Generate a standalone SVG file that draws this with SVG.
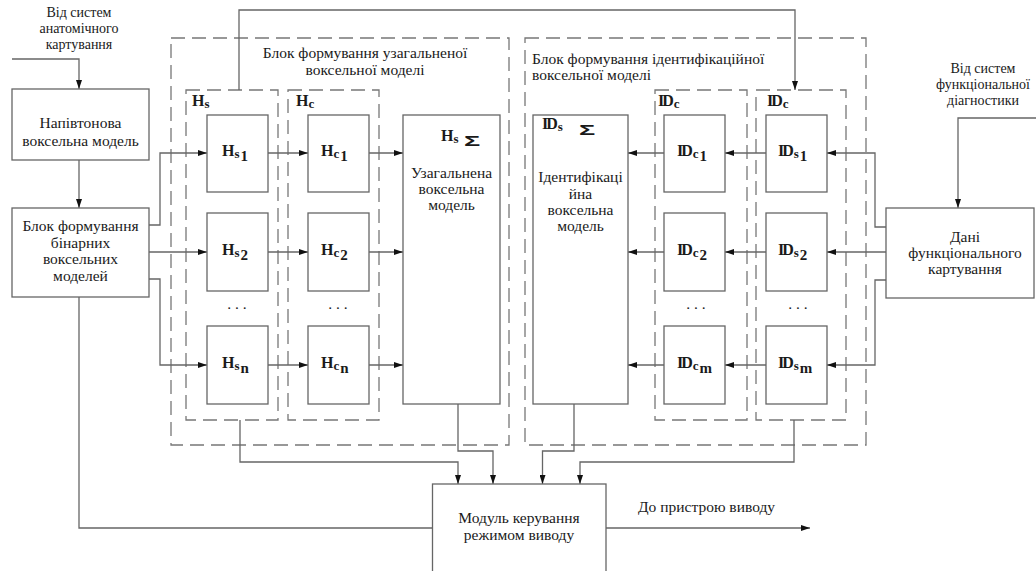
<svg xmlns="http://www.w3.org/2000/svg" width="1036" height="571" viewBox="0 0 1036 571">
<style>
.b{fill:#fff;stroke:#666;stroke-width:1.3}
.d{fill:none;stroke:#777;stroke-width:1.3;stroke-dasharray:14 7}
.c{fill:none;stroke:#666;stroke-width:1.3}
.a{marker-end:url(#ar)}
.t{font-family:"Liberation Serif",serif;font-size:15.5px;fill:#1a1a1a;text-anchor:middle}
.tl{font-family:"Liberation Serif",serif;font-size:15.5px;fill:#1a1a1a}
.sm{font-size:14px}
.l{font-family:"Liberation Serif",serif;font-weight:bold;font-size:16px;fill:#1a1a1a}
.s{font-size:13px}
.n{font-size:15px}
.g{font-family:"Liberation Sans",sans-serif;font-weight:bold;font-size:15px;fill:#1a1a1a}
.id{letter-spacing:-2px}
</style>
<defs>
<marker id="ar" markerUnits="userSpaceOnUse" markerWidth="9" markerHeight="6" refX="9" refY="3" orient="auto">
<path d="M0,0 L9,3 L0,6 z" fill="#111"/>
</marker>
</defs>
<rect width="1036" height="571" fill="#fff"/>

<g id="block-general">
<rect class="d" x="171" y="38" width="338" height="407"/>
<text class="t" x="365" y="58">Блок формування узагальненої</text>
<text class="t" x="365" y="75">воксельної моделі</text>
</g>
<g id="block-ident">
<rect class="d" x="525" y="38" width="341" height="407"/>
<text class="tl" x="532" y="64">Блок формування ідентифікаційної</text>
<text class="tl" x="532" y="80">воксельної моделі</text>
</g>
<g id="group-hs">
<rect class="d" x="186" y="90" width="92" height="330"/>
<text class="l" x="192" y="106">H<tspan class="s" dy="2">s</tspan></text>
</g>
<g id="group-hc">
<rect class="d" x="288" y="90" width="91" height="330"/>
<text class="l" x="296" y="106">H<tspan class="s" dy="2">c</tspan></text>
</g>
<g id="group-idc">
<rect class="d" x="655" y="90" width="92" height="330"/>
<text class="l" x="658" y="106"><tspan class="id">ID</tspan><tspan class="s" dy="2" dx="2">c</tspan></text>
</g>
<g id="group-ids">
<rect class="d" x="756" y="90" width="90" height="330"/>
<text class="l" x="767" y="106"><tspan class="id">ID</tspan><tspan class="s" dy="2" dx="2">c</tspan></text>
</g>

<g id="connectors">
<path class="c a" d="M12,59 H79 V89"/>
<path class="c a" d="M79,160 V208"/>
<path class="c a" d="M149,225 H160 V153 H207"/>
<path class="c a" d="M149,252 H207"/>
<path class="c a" d="M149,279 H160 V365 H207"/>
<path class="c a" d="M268,153 H308"/>
<path class="c a" d="M268,252 H308"/>
<path class="c a" d="M268,365 H308"/>
<path class="c a" d="M369,153 H403"/>
<path class="c a" d="M369,252 H403"/>
<path class="c a" d="M369,365 H403"/>
<path class="c" d="M79,297 V528 H432"/>
<path class="c a" d="M239,90 V10 H795 V90"/>
<path class="c a" d="M1036,118 H958 V208"/>
<path class="c a" d="M886,227 H875 V153 H827"/>
<path class="c a" d="M886,252 H827"/>
<path class="c a" d="M886,280 H875 V365 H827"/>
<path class="c a" d="M766,153 H725"/>
<path class="c a" d="M766,252 H725"/>
<path class="c a" d="M766,365 H725"/>
<path class="c a" d="M664,153 H628"/>
<path class="c a" d="M664,252 H628"/>
<path class="c a" d="M664,365 H628"/>
<path class="c a" d="M240,420 V462 H458 V484"/>
<path class="c a" d="M458,404 V451 H493 V484"/>
<path class="c a" d="M574,404 V451 H542.5 V484"/>
<path class="c a" d="M794,420 V462 H580 V484"/>
<path class="c a" d="M606,528 H810"/>
</g>

<g id="src-anat">
<text class="t sm" x="79" y="17">Від систем</text>
<text class="t sm" x="79" y="33">анатомічного</text>
<text class="t sm" x="79" y="49">картування</text>
</g>
<g id="halftone">
<rect class="b" x="12" y="89" width="137" height="71"/>
<text class="t" x="80.5" y="128">Напівтонова</text>
<text class="t" x="80.5" y="146">воксельна модель</text>
</g>
<g id="binary">
<rect class="b" x="12" y="208" width="137" height="89"/>
<text class="t" x="80.5" y="231">Блок формування</text>
<text class="t" x="80.5" y="248">бінарних</text>
<text class="t" x="80.5" y="264">воксельних</text>
<text class="t" x="80.5" y="281">моделей</text>
</g>

<g id="hs1"><rect class="b" x="207" y="115" width="61" height="77"/><text class="l" x="222" y="156">H<tspan class="s" dy="2">s</tspan><tspan class="n" dy="3" dx="1">1</tspan></text></g>
<g id="hs2"><rect class="b" x="207" y="213" width="61" height="78"/><text class="l" x="222" y="255">H<tspan class="s" dy="2">s</tspan><tspan class="n" dy="3" dx="1">2</tspan></text></g>
<g id="hsn"><rect class="b" x="207" y="326" width="61" height="78"/><text class="l" x="222" y="368">H<tspan class="s" dy="2">s</tspan><tspan class="n" dy="3" dx="1">n</tspan></text></g>
<text class="t" x="237" y="309">. . .</text>
<g id="hc1"><rect class="b" x="308" y="115" width="61" height="77"/><text class="l" x="321" y="156">H<tspan class="s" dy="2">c</tspan><tspan class="n" dy="3" dx="1">1</tspan></text></g>
<g id="hc2"><rect class="b" x="308" y="213" width="61" height="78"/><text class="l" x="321" y="255">H<tspan class="s" dy="2">c</tspan><tspan class="n" dy="3" dx="1">2</tspan></text></g>
<g id="hcn"><rect class="b" x="308" y="326" width="61" height="78"/><text class="l" x="321" y="368">H<tspan class="s" dy="2">c</tspan><tspan class="n" dy="3" dx="1">n</tspan></text></g>
<text class="t" x="338" y="309">. . .</text>

<g id="hs-sum">
<rect class="b" x="403" y="115" width="97" height="289"/>
<text class="l" x="441" y="141">H<tspan class="s" dy="2">s</tspan></text>
<text class="g" transform="translate(464,146) scale(1.8,1)">Σ</text>
<text class="t" x="451.5" y="178">Узагальнена</text>
<text class="t" x="451.5" y="194">воксельна</text>
<text class="t" x="451.5" y="210">модель</text>
</g>
<g id="ids-sum">
<rect class="b" x="533" y="115" width="95" height="289"/>
<text class="l" x="542" y="129"><tspan class="id">ID</tspan><tspan class="s" dy="2" dx="2">s</tspan></text>
<text class="g" transform="translate(579,135) scale(1.8,1)">Σ</text>
<text class="t" x="580.5" y="182">Ідентифікаці</text>
<text class="t" x="580.5" y="199">йна</text>
<text class="t" x="580.5" y="215">воксельна</text>
<text class="t" x="580.5" y="231">модель</text>
</g>

<g id="idc1"><rect class="b" x="664" y="115" width="61" height="77"/><text class="l" x="677" y="156"><tspan class="id">ID</tspan><tspan class="s" dy="2" dx="2">c</tspan><tspan class="n" dy="3" dx="1">1</tspan></text></g>
<g id="idc2"><rect class="b" x="664" y="213" width="61" height="78"/><text class="l" x="677" y="255"><tspan class="id">ID</tspan><tspan class="s" dy="2" dx="2">c</tspan><tspan class="n" dy="3" dx="1">2</tspan></text></g>
<g id="idcm"><rect class="b" x="664" y="326" width="61" height="78"/><text class="l" x="677" y="368"><tspan class="id">ID</tspan><tspan class="s" dy="2" dx="2">c</tspan><tspan class="n" dy="3" dx="1">m</tspan></text></g>
<text class="t" x="696" y="309">. . .</text>
<g id="ids1"><rect class="b" x="766" y="115" width="61" height="77"/><text class="l" x="778" y="156"><tspan class="id">ID</tspan><tspan class="s" dy="2" dx="2">s</tspan><tspan class="n" dy="3" dx="1">1</tspan></text></g>
<g id="ids2"><rect class="b" x="766" y="213" width="61" height="78"/><text class="l" x="778" y="255"><tspan class="id">ID</tspan><tspan class="s" dy="2" dx="2">s</tspan><tspan class="n" dy="3" dx="1">2</tspan></text></g>
<g id="idsm"><rect class="b" x="766" y="326" width="61" height="78"/><text class="l" x="778" y="368"><tspan class="id">ID</tspan><tspan class="s" dy="2" dx="2">s</tspan><tspan class="n" dy="3" dx="1">m</tspan></text></g>
<text class="t" x="798" y="309">. . .</text>

<g id="src-func">
<text class="t sm" x="983" y="73">Від систем</text>
<text class="t sm" x="983" y="89">функціональної</text>
<text class="t sm" x="983" y="105">діагностики</text>
</g>
<g id="func-data">
<rect class="b" x="886" y="208" width="148" height="90"/>
<text class="t" x="965" y="242">Дані</text>
<text class="t" x="965" y="258">функціонального</text>
<text class="t" x="965" y="274">картування</text>
</g>
<g id="output-module">
<rect class="b" x="432.5" y="484" width="173.5" height="100"/>
<text class="t" x="519" y="523">Модуль керування</text>
<text class="t" x="519" y="540">режимом виводу</text>
</g>
<text id="out-label" class="tl" x="638" y="512">До пристрою виводу</text>
</svg>
